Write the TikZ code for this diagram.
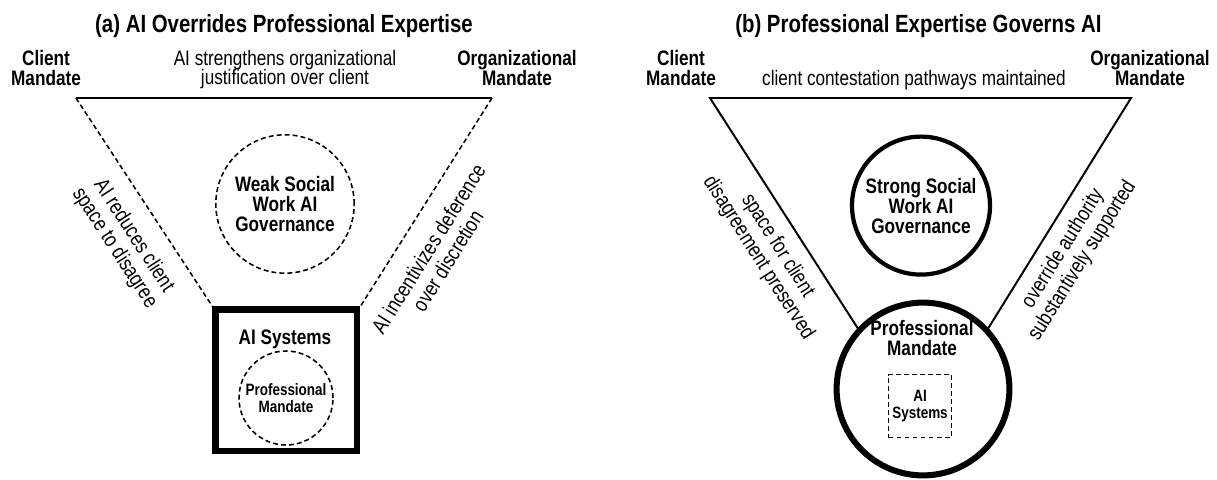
\documentclass[tikz,border=0pt]{standalone}
\usepackage{fontspec}
\setmainfont{Liberation Sans}[FakeStretch=0.82]
\usetikzlibrary{positioning,calc,shapes.geometric}

\newcommand{\lblfont}{\fontsize{14.9}{14.2}\selectfont}
\newcommand{\rotfont}{\fontsize{15.2}{16.2}\selectfont}
\newcommand{\ttlfont}{\fontsize{17.7}{20}\selectfont}
\newcommand{\smlfont}{\fontsize{11.7}{12.4}\selectfont}

\tikzset{
    lbl/.style={font=\lblfont, align=center, inner sep=0pt},
    rot/.style={lbl, font=\rotfont},
    head/.style={lbl, font=\lblfont\bfseries},
    ttl/.style={font=\ttlfont\bfseries, inner sep=0pt},
    sml/.style={font=\smlfont\bfseries, align=center, inner sep=0pt},
    dsh/.style={line width=1.1pt, dash pattern=on 3.5pt off 2.2pt},
}

\begin{document}
\begin{tikzpicture}

    \useasboundingbox (0,0) rectangle (30.425,-11.975);

    % --- (a) triangle corners ---
                \coordinate (Ca) at (1.9,-2.45);    % client corner
                \coordinate (Oa) at (12.3,-2.45);   % organizational corner

    % --- (a) shapes ---
                \node[ttl] (ta) at (7.1,-0.64) {(a) AI Overrides Professional Expertise};
                \node[draw, line width=4.6pt, minimum size=3.54cm, inner sep=0pt] (sysA) at (7.16,-9.51) {};
                \node[head] (sysAl) at (7.125,-8.475) {AI Systems};
                \node[circle, draw, dsh, minimum size=2.35cm, sml] (pmA) at (7.15,-9.95) {Professional\\Mandate};
                \node[circle, draw, dsh, minimum size=3.46cm, head] (govA) at (7.125,-5.1) {Weak Social\\Work AI\\Governance};

    % --- (a) sides ---
                \draw[line width=1.6pt] (Ca) -- (Oa);
                \draw[dsh] (Ca) -- (sysA.north west);
                \draw[dsh] (Oa) -- (sysA.north east);

    % --- (a) labels ---
                \node[head] (cmA) at (1.15,-1.70) {Client\\Mandate};
                \node[lbl] (jA) at (7.125,-1.74) {AI strengthens organizational\\justification over client};
                \node[head] (omA) at (12.925,-1.70) {Organizational\\Mandate};
                \node[rot, rotate=-57] (lA) at (3.1,-6.05) {AI reduces client\\space to disagree};
                \node[rot, rotate=58] (rA) at (10.95,-6.37) {AI incentivizes deference\\over discretion};

    % --- (b) triangle corners ---
                \coordinate (Cb) at (17.75,-2.45);
                \coordinate (Ob) at (28.275,-2.45);

    % --- (b) shapes ---
                \node[ttl] (tb) at (22.96,-0.64) {(b) Professional Expertise Governs AI};
                \node[circle, draw, line width=3pt, minimum size=3.45cm, head] (govB) at (23.025,-5.14) {Strong Social\\Work AI\\Governance};
                \node[circle, draw, line width=4.3pt, minimum size=4.32cm] (pmB) at (23.075,-9.725) {};
                \node[head] (pmBl) at (23.05,-8.46) {Professional\\Mandate};
                \node[draw, dsh, minimum size=1.575cm, sml] (sysB) at (23.0,-10.15) {AI\\Systems};

    % --- (b) sides ---
                \draw[line width=1.4pt] (pmB.137) -- (Cb) -- (Ob) -- (pmB.43);

    % --- (b) labels ---
                \node[head] (cmB) at (17.025,-1.70) {Client\\Mandate};
                \node[lbl] (jB) at (22.85,-1.99) {client contestation pathways maintained};
                \node[head] (omB) at (28.75,-1.70) {Organizational\\Mandate};
                \node[rot, rotate=-57.5] (lB) at (19.2,-6.3) {space for client\\disagreement preserved};
                \node[rot, rotate=58] (rB) at (26.82,-6.37) {override authority\\substantively supported};

\end{tikzpicture}
\end{document}
